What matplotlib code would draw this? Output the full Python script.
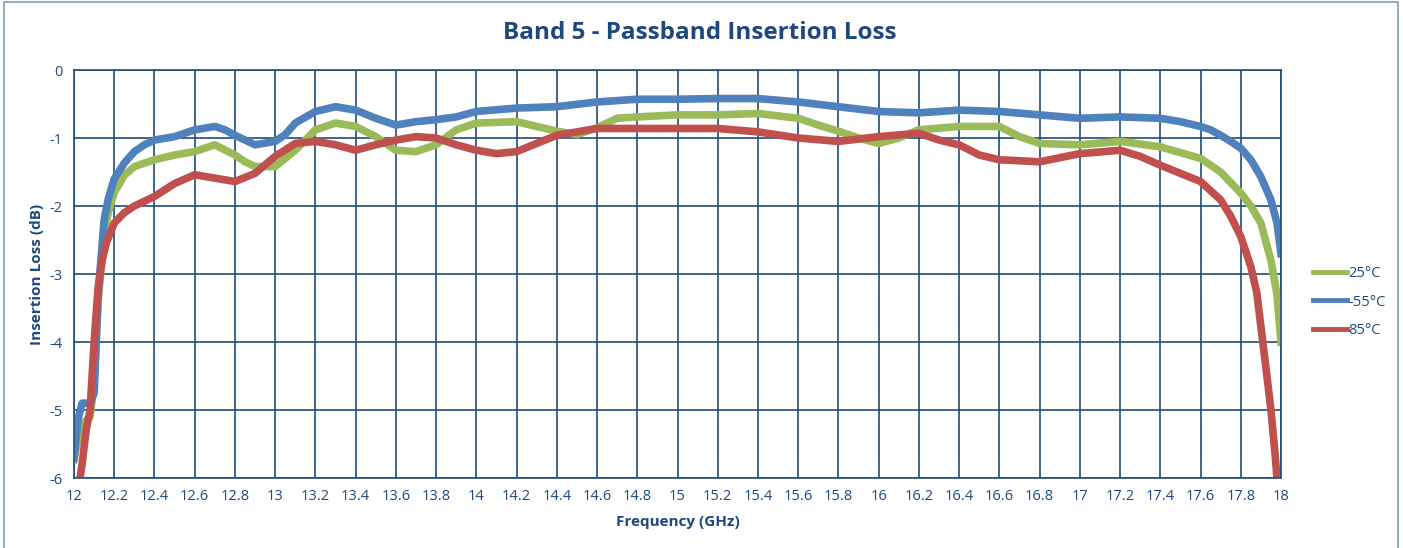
import matplotlib
matplotlib.use("Agg")
import matplotlib.pyplot as plt
from matplotlib.patches import Rectangle

# Insertion loss traces (GHz, dB)
freq_55 = [12.0, 12.02, 12.04, 12.08, 12.1, 12.12, 12.15, 12.17, 12.2, 12.25, 12.3,
           12.35, 12.4, 12.5, 12.6, 12.7, 12.75, 12.8, 12.9, 13.0, 13.05, 13.1, 13.2,
           13.3, 13.4, 13.5, 13.6, 13.7, 13.8, 13.9, 14.0, 14.2, 14.4, 14.6, 14.8,
           15.0, 15.2, 15.4, 15.6, 15.8, 16.0, 16.2, 16.4, 16.6, 16.8, 17.0, 17.2,
           17.4, 17.5, 17.6, 17.65, 17.7, 17.75, 17.8, 17.85, 17.9, 17.95, 17.98, 18.0]
loss_55 = [-5.7, -5.14, -4.9, -4.9, -4.75, -3.3, -2.2, -1.9, -1.6, -1.37, -1.2,
           -1.1, -1.03, -0.98, -0.88, -0.83, -0.88, -0.96, -1.1, -1.05, -0.95, -0.78, -0.61,
           -0.54, -0.59, -0.71, -0.81, -0.76, -0.73, -0.69, -0.61, -0.56, -0.54, -0.47, -0.43,
           -0.43, -0.42, -0.42, -0.47, -0.54, -0.61, -0.63, -0.59, -0.61, -0.66, -0.71, -0.69,
           -0.71, -0.76, -0.83, -0.88, -0.96, -1.05, -1.15, -1.32, -1.57, -1.91, -2.25, -2.7]

freq_25 = [12.0, 12.03, 12.05, 12.08, 12.1, 12.12, 12.15, 12.17, 12.2, 12.25, 12.3,
           12.4, 12.5, 12.6, 12.7, 12.8, 12.85, 12.9, 13.0, 13.1, 13.2, 13.3, 13.4,
           13.5, 13.6, 13.7, 13.8, 13.9, 14.0, 14.2, 14.3, 14.4, 14.5, 14.6, 14.7,
           14.8, 15.0, 15.2, 15.4, 15.6, 15.7, 15.8, 15.9, 16.0, 16.1, 16.2, 16.4,
           16.6, 16.7, 16.8, 17.0, 17.2, 17.4, 17.6, 17.7, 17.8, 17.85, 17.9, 17.95,
           17.98, 18.0]
loss_25 = [-5.73, -5.24, -5.19, -5.1, -4.6, -3.4, -2.4, -2.1, -1.8, -1.55, -1.42,
           -1.32, -1.25, -1.2, -1.1, -1.25, -1.35, -1.42, -1.42, -1.18, -0.88, -0.78, -0.83,
           -0.98, -1.18, -1.2, -1.1, -0.88, -0.78, -0.76, -0.83, -0.9, -0.95, -0.85, -0.71,
           -0.69, -0.66, -0.66, -0.64, -0.71, -0.81, -0.9, -1.0, -1.08, -1.0, -0.88, -0.83,
           -0.83, -0.98, -1.08, -1.1, -1.05, -1.13, -1.3, -1.5, -1.81, -2.0, -2.25, -2.8,
           -3.3, -4.0]

freq_85 = [12.03, 12.04, 12.06, 12.08, 12.1, 12.12, 12.14, 12.16, 12.2, 12.25, 12.3,
           12.4, 12.5, 12.6, 12.7, 12.8, 12.9, 13.0, 13.1, 13.2, 13.3, 13.4, 13.5,
           13.6, 13.7, 13.8, 13.9, 14.0, 14.1, 14.2, 14.3, 14.4, 14.6, 14.8, 15.0,
           15.2, 15.4, 15.6, 15.8, 16.0, 16.2, 16.3, 16.4, 16.5, 16.6, 16.8, 17.0,
           17.2, 17.3, 17.4, 17.5, 17.6, 17.7, 17.75, 17.8, 17.85, 17.88, 17.9, 17.93,
           17.95, 17.97, 17.98]
loss_85 = [-6.0, -5.8, -5.3, -5.0, -4.0, -3.2, -2.8, -2.55, -2.25, -2.1, -2.0,
           -1.86, -1.67, -1.54, -1.59, -1.64, -1.52, -1.27, -1.08, -1.05, -1.1, -1.18, -1.1,
           -1.03, -0.98, -1.0, -1.1, -1.18, -1.23, -1.2, -1.08, -0.96, -0.86, -0.86, -0.86,
           -0.86, -0.91, -1.0, -1.05, -0.98, -0.93, -1.03, -1.1, -1.25, -1.32, -1.35, -1.23,
           -1.18, -1.27, -1.4, -1.52, -1.64, -1.91, -2.15, -2.45, -2.89, -3.28, -3.77, -4.5,
           -5.0, -5.63, -6.0]

SERIES = [
    ("25°C", freq_25, loss_25, "#9BBB59"),
    ("-55°C", freq_55, loss_55, "#4F81BD"),
    ("85°C", freq_85, loss_85, "#C0504D"),
]

TEXT_BLUE = "#1F497D"
GRID_BLUE = "#1F4E79"

plt.rcParams["font.family"] = ["Open Sans", "DejaVu Sans"]
plt.rcParams["axes.unicode_minus"] = False

fig = plt.figure(figsize=(14.03, 5.48), dpi=100)
ax = fig.add_axes([74 / 1403, 1 - 478 / 548, (1281 - 74) / 1403, 408 / 548])

for label, f, l, c in SERIES:
    ax.plot(f, l, color=c, linewidth=5.5, label=label, solid_joinstyle="round")

ax.set_xlim(12, 18)
ax.set_ylim(-6, 0)
ax.set_xticks([12 + 0.2 * i for i in range(31)])
ax.set_xticklabels([f"{12 + 0.2 * i:.1f}".rstrip("0").rstrip(".") for i in range(31)])
ax.set_yticks(range(-6, 1))
ax.grid(True, color=GRID_BLUE, linewidth=1.2)
ax.set_axisbelow(True)
for s in ax.spines.values():
    s.set_color(GRID_BLUE)
    s.set_linewidth(1.2)
ax.tick_params(length=0, colors=TEXT_BLUE, labelsize=10.5, pad=8)

ax.set_xlabel("Frequency (GHz)", fontsize=11, fontweight="bold", color=TEXT_BLUE, labelpad=8)
ax.set_ylabel("Insertion Loss (dB)", fontsize=11, fontweight="bold", color=TEXT_BLUE, labelpad=4)

fig.text(700 / 1403, 1 - 33 / 548, "Band 5 - Passband Insertion Loss", ha="center", va="center",
         fontsize=17.5, fontweight="bold", color=TEXT_BLUE)

leg = ax.legend(loc="center left", bbox_to_anchor=(1313 / 1403, 1 - 302 / 548),
                bbox_transform=fig.transFigure, frameon=False, fontsize=10.5,
                borderpad=0, borderaxespad=0,
                handlelength=2.3, handletextpad=0.1, labelspacing=0.95)
for t in leg.get_texts():
    t.set_color(TEXT_BLUE)
for h in leg.get_lines():
    h.set_linewidth(3.5)

fig.patches.append(Rectangle((4 / 1403, -0.02), 1394 / 1403, 1.02 - 2 / 548,
                             transform=fig.transFigure, fill=False,
                             edgecolor="#7F9DC2", linewidth=1.2))

fig.savefig("out.png", dpi=100)
